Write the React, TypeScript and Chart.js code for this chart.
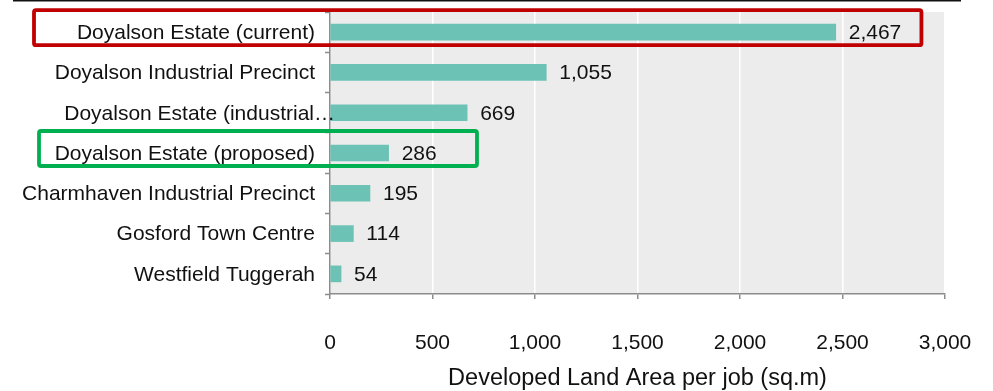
import React, { useEffect, useRef } from "react";
import { Chart, registerables } from "chart.js";

Chart.register(...registerables);

// Developed land area per job, by precinct (sq.m)
const categories: string[] = [
  "Doyalson Estate (current)",
  "Doyalson Industrial Precinct",
  "Doyalson Estate (industrial…",
  "Doyalson Estate (proposed)",
  "Charmhaven Industrial Precinct",
  "Gosford Town Centre",
  "Westfield Tuggerah",
];
const landPerJob: number[] = [2467, 1055, 669, 286, 195, 114, 54];

const xMin = 0;
const xMax = 3000;
const xStep = 500;
const axisTitle = "Developed Land Area per job (sq.m)";

// Highlight boxes around selected rows: row index, colour, value where the box ends
const highlightRows: number[] = [0, 3];
const highlightColors: string[] = ["#c00000", "#00b050"];
const highlightEnds: number[] = [2885, 717];
const highlightLefts: number[] = [34, 39];

const FONT = "'Liberation Sans', Arial, Helvetica, sans-serif";
const BAR_COLOR = "#6cc2b5";
const AXIS_GREY = "#8c8c8c";
const PLOT_BG = "#ececec";
const LABEL_GAP = 15; // space between category label and the axis line
const TRUNCATED_SPILL = 5; // truncated labels run past the axis line a little

const plotBackground = {
  id: "plotBackground",
  beforeDraw(chart: any) {
    const { ctx, chartArea } = chart;
    ctx.save();
    ctx.fillStyle = PLOT_BG;
    ctx.fillRect(chartArea.left, chartArea.top, chartArea.right - chartArea.left, chartArea.bottom - chartArea.top);
    ctx.restore();
  },
};

// Category labels, placed on the y scale's own row positions
const categoryLabels = {
  id: "categoryLabels",
  afterDraw(chart: any) {
    const { ctx } = chart;
    const ys = chart.scales.y;
    ctx.save();
    ctx.font = `21px ${FONT}`;
    ctx.fillStyle = "#111";
    ctx.textAlign = "right";
    ctx.textBaseline = "middle";
    categories.forEach((label, i) => {
      const y = ys.getPixelForValue(i);
      const x = label.endsWith("…") ? ys.right + TRUNCATED_SPILL : ys.right - LABEL_GAP;
      ctx.fillText(label, x, y + 1);
    });
    ctx.restore();
  },
};

const valueLabels = {
  id: "valueLabels",
  afterDatasetsDraw(chart: any) {
    const { ctx } = chart;
    const meta = chart.getDatasetMeta(0);
    ctx.save();
    ctx.font = `21px ${FONT}`;
    ctx.fillStyle = "#111";
    ctx.textAlign = "left";
    ctx.textBaseline = "middle";
    meta.data.forEach((bar: any, i: number) => {
      const v = landPerJob[i];
      ctx.fillText(v.toLocaleString("en-US"), bar.x + 13, bar.y + 1);
    });
    ctx.restore();
  },
};

const highlights = {
  id: "highlights",
  afterDraw(chart: any) {
    const { ctx } = chart;
    const xs = chart.scales.x;
    const ys = chart.scales.y;
    ctx.save();
    // rule across the top of the figure
    ctx.strokeStyle = "#111";
    ctx.lineWidth = 1.5;
    ctx.beginPath();
    ctx.moveTo(13, 0.75);
    ctx.lineTo(961, 0.75);
    ctx.stroke();

    highlightRows.forEach((row, k) => {
      const cy = ys.getPixelForValue(row);
      const left = highlightLefts[k];
      const right = xs.getPixelForValue(highlightEnds[k]);
      const top = cy - 22;
      const bottom = cy + 13;
      ctx.strokeStyle = highlightColors[k];
      ctx.lineWidth = 3.8;
      ctx.lineJoin = "round";
      ctx.beginPath();
      ctx.roundRect(left, top, right - left, bottom - top, 2);
      ctx.stroke();
    });
    ctx.restore();
  },
};

export default function App() {
  const canvasRef = useRef<HTMLCanvasElement | null>(null);

  useEffect(() => {
    document.body.style.margin = "0";
    const canvas = canvasRef.current;
    if (!canvas) return;
    const chart = new Chart(canvas, {
      type: "bar",
      data: {
        labels: categories,
        datasets: [
          {
            data: landPerJob,
            backgroundColor: BAR_COLOR,
            borderWidth: 0,
            barThickness: 16,
          },
        ],
      },
      options: {
        indexAxis: "y",
        animation: false,
        responsive: false,
        maintainAspectRatio: false,
        devicePixelRatio: 1,
        layout: { padding: { top: 12, right: 48, left: 0, bottom: 0 } },
        plugins: {
          legend: { display: false },
          tooltip: { enabled: false },
        },
        scales: {
          y: {
            type: "category",
            afterFit(scale: any) {
              scale.width = 330;
              scale.paddingTop = 0;
              scale.paddingBottom = 0;
            },
            ticks: { display: false, autoSkip: false },
            grid: {
              display: true,
              drawOnChartArea: false,
              offset: true,
              tickLength: 5,
              tickColor: AXIS_GREY,
              tickWidth: 1.5,
            },
            border: { color: AXIS_GREY, width: 1.5 },
          },
          x: {
            type: "linear",
            min: xMin,
            max: xMax,
            afterFit(scale: any) {
              scale.height = 97;
              scale.paddingLeft = 0;
              scale.paddingRight = 0;
            },
            ticks: {
              stepSize: xStep,
              color: "#111",
              font: { family: FONT, size: 21 },
              padding: 32,
              callback: (v: any) => Number(v).toLocaleString("en-US"),
            },
            grid: {
              color: "#ffffff",
              lineWidth: 1.5,
              tickLength: 5,
              tickColor: AXIS_GREY,
              tickWidth: 1.5,
            },
            border: { color: AXIS_GREY, width: 1.5 },
            title: {
              display: true,
              text: axisTitle,
              color: "#111",
              font: { family: FONT, size: 23.5, lineHeight: 1 },
              padding: { top: 0, bottom: 1 },
            },
          },
        },
      },
      plugins: [plotBackground, categoryLabels, valueLabels, highlights],
    });
    return () => chart.destroy();
  }, []);

  return (
    <div style={{ width: 993, height: 391 }}>
      <canvas ref={canvasRef} width={993} height={391} style={{ display: "block" }} />
    </div>
  );
}
